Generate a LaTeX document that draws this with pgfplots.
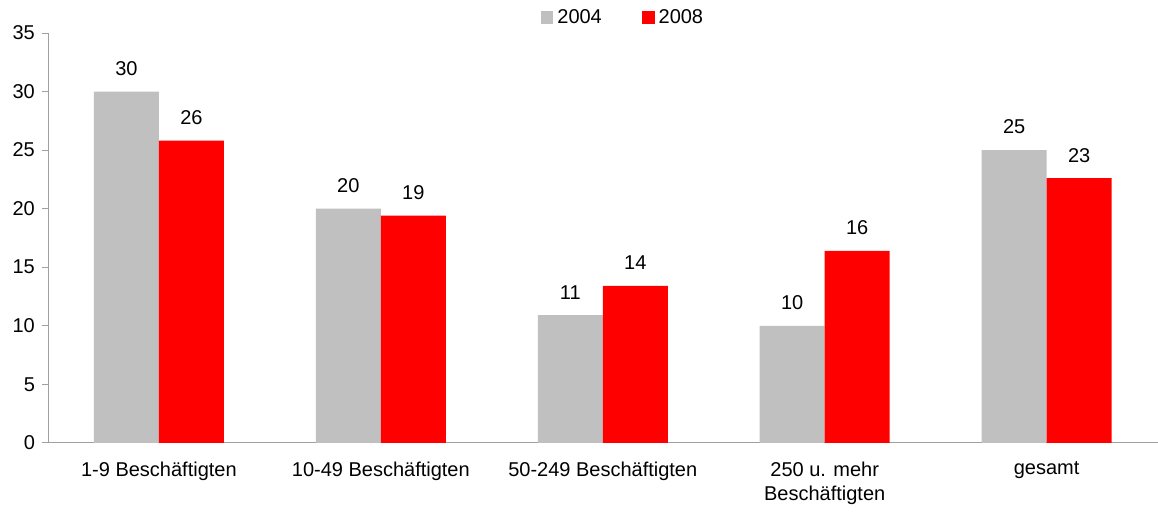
\documentclass[border=0pt]{standalone}
\usepackage{fontspec}
\setmainfont{Liberation Sans}
\usepackage{pgfplots}
\usepackage{pgfplotstable}
\pgfplotsset{compat=1.18}
\definecolor{cgray}{HTML}{C0C0C0}
\definecolor{cred}{HTML}{FF0000}
\definecolor{axgray}{HTML}{A0A0A0}
\pgfplotstableread{
x y lab
0 30.0 30
1 20.0 20
2 10.9 11
3 10.0 10
4 25.0 25
}\datafirst
\pgfplotstableread{
x y lab
0 25.8 26
1 19.4 19
2 13.4 14
3 16.4 16
4 22.6 23
}\datasecond
\begin{document}
\begin{tikzpicture}
\begin{axis}[
  scale only axis,
  width=555pt, height=205pt,
  xmin=-0.5, xmax=4.5,
  ymin=0, ymax=35,
  ytick={0,5,...,35},
  xtick={0,1,2,3,4},
  xticklabels={1-9 Beschäftigten,10-49 Beschäftigten,50-249 Beschäftigten,{250 u. mehr\\Beschäftigten},gesamt},
  major x tick style={draw=none},
  extra x ticks={-0.5,0.5,1.5,2.5,3.5},
  extra x tick labels={},
  extra x tick style={major tick length=3pt, tick style={draw=axgray}, xticklabel style={draw=none}},
  axis x line*=bottom,
  axis y line*=left,
  axis line style={draw=axgray, thin},
  tick style={draw=axgray, thin},
  tick align=outside,
  major tick length=3pt,
  y axis line style={-}, x axis line style={-},
  ticklabel style={font=\fontsize{10}{12}\selectfont},
  xticklabel style={align=center, yshift=-3pt},
  /pgf/number format/assume math mode=true,
  ybar=0pt, bar width=32.5pt,
  nodes near coords,
  point meta=explicit symbolic,
  every node near coord/.append style={font=\fontsize{10}{12}\selectfont, black, anchor=center, yshift=11.5pt},
  legend style={at={(rel axis cs:0.519,1.037)}, anchor=center, draw=none, fill=none,
    legend columns=2, font=\fontsize{10}{12}\selectfont,
    /tikz/every even column/.append style={column sep=18pt}},
  legend image code/.code={\fill[#1] (0pt,-3.2pt) rectangle (6.4pt,3.2pt);},
  clip=false,
]
\addplot[fill=cgray, draw=none] table[x=x, y=y, meta=lab] {\datafirst};
\addplot[fill=cred, draw=none] table[x=x, y=y, meta=lab] {\datasecond};
\legend{2004,2008}
\path (rel axis cs:-0.0432,-0.1585) rectangle (rel axis cs:1.0,1.0805);
\end{axis}
\end{tikzpicture}
\end{document}
